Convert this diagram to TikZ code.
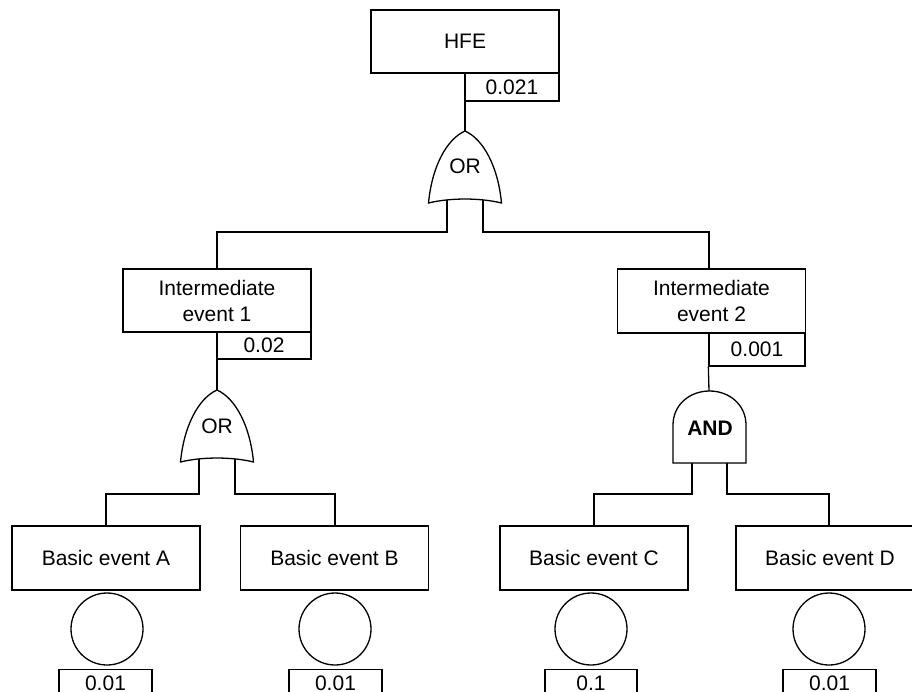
\documentclass[tikz,border=0pt]{standalone}
\usepackage{fontspec}
\setmainfont{Liberation Sans}
\begin{document}
\begin{tikzpicture}[x=1pt,y=-1pt,line width=1.3pt,
  evbox/.style={draw,rectangle,inner sep=0pt,minimum width=188pt,minimum height=64pt,
    align=center,font=\fontsize{21}{26}\selectfont},
  valbox/.style={draw,rectangle,inner sep=0pt,minimum height=28pt,
    font=\fontsize{21}{24}\selectfont},
  basicval/.style={valbox,minimum height=34pt,anchor=north},
  basiccirc/.style={draw,circle,inner sep=0pt,minimum size=72pt},
  gatelabel/.style={inner sep=0pt,font=\fontsize{21}{24}\selectfont},
  gateshape/.style={draw,fill=white},
  wire/.style={draw}]
\useasboundingbox (0,0) rectangle (912,691);
\clip (0,0) rectangle (912,691);

% ---- top event ----
\node[evbox,minimum height=63pt] (hfe) at (465,41.5) {HFE};
\node[valbox,minimum width=94pt] (hfeval) at (512,87) {0.021};

% ---- intermediate events ----
\node[evbox,minimum height=63pt] (int1) at (217,300.5) {Intermediate\\event 1};
\node[valbox,minimum width=94pt,minimum height=27pt] (int1val) at (264,345.5) {0.02};
\node[evbox,minimum height=64pt] (int2) at (711.5,301) {Intermediate\\event 2};
\node[valbox,minimum width=96pt,minimum height=33pt] (int2val) at (757,349.5) {0.001};

% ---- basic events ----
\node[evbox] (bea) at (106,558) {Basic event A};
\node[evbox] (beb) at (334.5,558) {Basic event B};
\node[evbox] (bec) at (594,558) {Basic event C};
\node[evbox] (bed) at (830,558) {Basic event D};

\node[basiccirc] (ca) at (107,629) {};
\node[basiccirc] (cb) at (335,629) {};
\node[basiccirc] (cc) at (591,629) {};
\node[basiccirc] (cd) at (829,629) {};

\node[basicval,minimum width=93pt] (va) at (105.5,669) {\raisebox{6pt}{0.01}};
\node[basicval,minimum width=93pt] (vb) at (335.5,669) {\raisebox{6pt}{0.01}};
\node[basicval,minimum width=92pt] (vc) at (591,669) {\raisebox{6pt}{0.1}};
\node[basicval,minimum width=93pt] (vd) at (829.5,669) {\raisebox{6pt}{0.01}};

% ---- gate input/output points and bus corners ----
\coordinate (g0in) at (465,131);
\coordinate (g0l)  at (447,195);
\coordinate (g0r)  at (483,195);
\coordinate (b0l)  at (217,232);
\coordinate (b0r)  at (709,232);

\coordinate (g1in) at (217,390);
\coordinate (g1l)  at (199,454);
\coordinate (g1r)  at (235,454);
\coordinate (b1l)  at (106,494);
\coordinate (b1r)  at (335,494);

\coordinate (g2in) at (709,391);
\coordinate (g2l)  at (692,455);
\coordinate (g2r)  at (727,455);
\coordinate (b2l)  at (594,494);
\coordinate (b2r)  at (829,494);

% ---- connectors ----
\draw[wire] (hfe.south) -- (g0in);
\draw[wire] (g0l) |- (b0l) -- (int1.north);
\draw[wire] (g0r) |- (b0r) -- (b0r |- int2.north);

\draw[wire] (int1.south) -- (g1in);
\draw[wire] (g1l) |- (b1l) -- (bea.north);
\draw[wire] (g1r) |- (b1r) -- (b1r |- beb.north);

\draw[wire] (int2val.south west) -- (g2in);
\draw[wire] (g2l) |- (b2l) -- (bec.north);
\draw[wire] (g2r) |- (b2r) -- (b2r |- bed.north);

% ---- OR gates ----
\foreach \gx/\gy in {465/131, 217/390} {
  \begin{scope}[shift={(\gx,\gy)}]
    \path[gateshape] (0,0) .. controls (18,8) and (33,35) .. (36.5,72)
      .. controls (15,66.7) and (-15,66.7) .. (-36.5,72)
      .. controls (-33,35) and (-18,8) .. (0,0) -- cycle;
  \end{scope}
}
\node[gatelabel] (g0) at (465,166) {OR};
\node[gatelabel] (g1) at (217,426) {OR};

% ---- AND gate ----
\begin{scope}[shift={(709.5,391)}]
  \path[gateshape] (-36.5,72) -- (-36.5,34)
    .. controls (-36.5,14) and (-20,0) .. (0,0)
    .. controls (20,0) and (36.5,14) .. (36.5,34)
    -- (36.5,72) -- cycle;
\end{scope}
\node[gatelabel,font=\fontsize{21}{24}\selectfont\bfseries] (g2) at (710,428) {AND};
\end{tikzpicture}
\end{document}
